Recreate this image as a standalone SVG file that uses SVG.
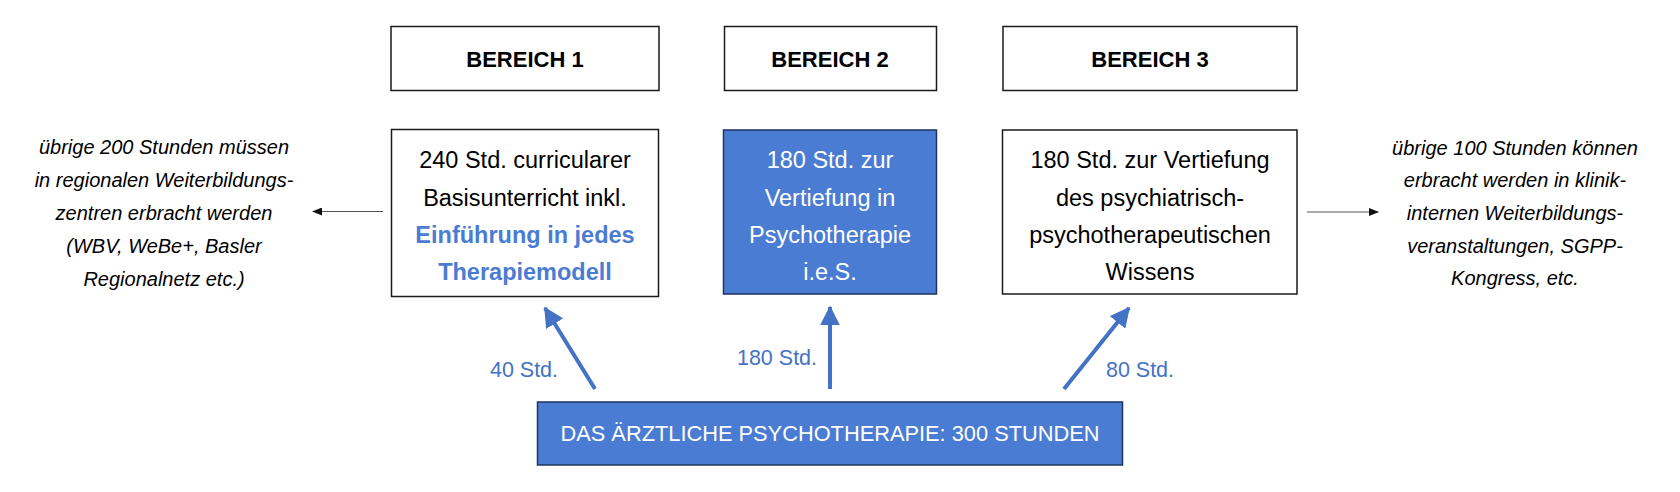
<svg xmlns="http://www.w3.org/2000/svg" width="1680" height="492" viewBox="0 0 1680 492">
<style>
.box{fill:#ffffff;stroke:#1a1a1a;stroke-width:1.5}
.bluebox{fill:#4a7cd3;stroke:#1f3560;stroke-width:1.5}
.t{font-family:"Liberation Sans",Arial,sans-serif;font-size:23.5px;text-anchor:middle;fill:#000}
.h{font-family:"Liberation Sans",Arial,sans-serif;font-size:22px;font-weight:bold;text-anchor:middle;fill:#000}
.w{fill:#ffffff}
.b{fill:#4a7cd3;font-weight:bold}
.it{font-family:"Liberation Sans",Arial,sans-serif;font-size:20px;font-style:italic;text-anchor:middle;fill:#000}
.lbl{font-family:"Liberation Sans",Arial,sans-serif;font-size:21.5px;text-anchor:middle;fill:#4472c4}
.big{stroke:#4472c4;stroke-width:4;fill:none}
.thin{stroke:#555;stroke-width:1;fill:none}
</style>
<defs>
<marker id="ah" markerWidth="5" markerHeight="5" refX="4.6" refY="2.5" orient="auto" markerUnits="strokeWidth">
<path d="M0,0 L5,2.5 L0,5 z" fill="#4472c4"/>
</marker>
<marker id="sh" markerWidth="10" markerHeight="8" refX="9" refY="4" orient="auto" markerUnits="userSpaceOnUse">
<path d="M0,0 L10,4 L0,8 z" fill="#111"/>
</marker>
</defs>

<g id="bereich1-header">
<rect class="box" x="391" y="26.5" width="268" height="64"/>
<text class="h" x="525" y="67">BEREICH 1</text>
</g>
<g id="bereich2-header">
<rect class="box" x="724.5" y="26.5" width="212" height="64"/>
<text class="h" x="830" y="67">BEREICH 2</text>
</g>
<g id="bereich3-header">
<rect class="box" x="1003" y="26.5" width="294" height="64"/>
<text class="h" x="1150" y="67">BEREICH 3</text>
</g>

<g id="bereich1-content">
<rect class="box" x="391.5" y="129.5" width="267" height="167"/>
<text class="t" x="525" y="168">240 Std. curricularer</text>
<text class="t" x="525" y="206">Basisunterricht inkl.</text>
<text class="t b" x="525" y="243">Einführung in jedes</text>
<text class="t b" x="525" y="280">Therapiemodell</text>
</g>
<g id="bereich2-content">
<rect class="bluebox" x="723.5" y="130" width="213" height="164"/>
<text class="t w" x="830" y="168">180 Std. zur</text>
<text class="t w" x="830" y="206">Vertiefung in</text>
<text class="t w" x="830" y="243">Psychotherapie</text>
<text class="t w" x="830" y="280">i.e.S.</text>
</g>
<g id="bereich3-content">
<rect class="box" x="1002.5" y="130" width="294.5" height="164"/>
<text class="t" x="1150" y="168">180 Std. zur Vertiefung</text>
<text class="t" x="1150" y="206">des psychiatrisch-</text>
<text class="t" x="1150" y="243">psychotherapeutischen</text>
<text class="t" x="1150" y="280">Wissens</text>
</g>

<g id="left-note">
<text class="it" x="164" y="154">übrige 200 Stunden müssen</text>
<text class="it" x="164" y="187">in regionalen Weiterbildungs-</text>
<text class="it" x="164" y="220">zentren erbracht werden</text>
<text class="it" x="164" y="253">(WBV, WeBe+, Basler</text>
<text class="it" x="164" y="286">Regionalnetz etc.)</text>
</g>
<g id="right-note">
<text class="it" x="1515" y="155">übrige 100 Stunden können</text>
<text class="it" x="1515" y="187">erbracht werden in klinik-</text>
<text class="it" x="1515" y="220">internen Weiterbildungs-</text>
<text class="it" x="1515" y="253">veranstaltungen, SGPP-</text>
<text class="it" x="1515" y="285">Kongress, etc.</text>
</g>

<g id="total">
<rect class="bluebox" x="537.5" y="402" width="585" height="63"/>
<text class="t w" style="font-size:21.8px" x="830" y="441">DAS ÄRZTLICHE PSYCHOTHERAPIE: 300 STUNDEN</text>
</g>

<g id="connectors">
<line class="thin" x1="383" y1="211.5" x2="313" y2="211.5" marker-end="url(#sh)"/>
<line class="thin" x1="1307" y1="212" x2="1378" y2="212" marker-end="url(#sh)"/>
<line class="big" x1="595" y1="389" x2="545" y2="308" marker-end="url(#ah)"/>
<line class="big" x1="830" y1="389" x2="830" y2="307" marker-end="url(#ah)"/>
<line class="big" x1="1064" y1="389" x2="1129" y2="308" marker-end="url(#ah)"/>
<text class="lbl" x="524" y="377">40 Std.</text>
<text class="lbl" x="777" y="365">180 Std.</text>
<text class="lbl" x="1140" y="377">80 Std.</text>
</g>
</svg>
